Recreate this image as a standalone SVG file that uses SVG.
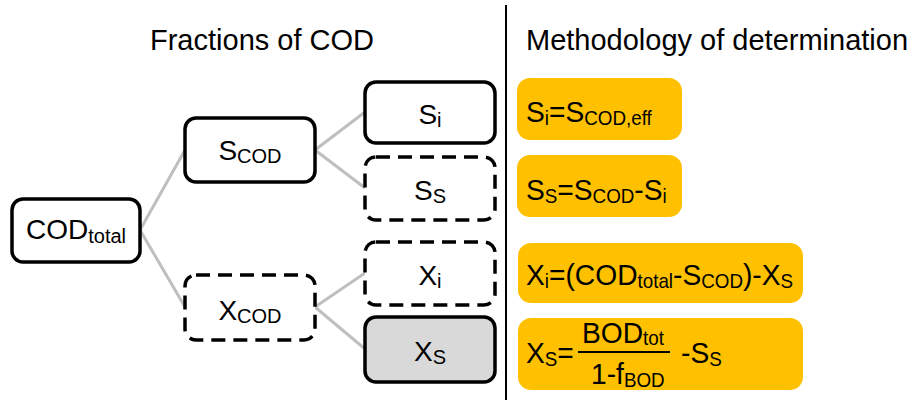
<svg xmlns="http://www.w3.org/2000/svg" width="908" height="400" viewBox="0 0 908 400">
<style>
text{font-family:"Liberation Sans",Arial,sans-serif;fill:#000}
.hdr{font-size:29px}
.nt{font-size:28px;text-anchor:middle}
.ft{font-size:30px}
.sub{font-size:20px}
.box{fill:#fff;stroke:#000;stroke-width:3.5}
.dash{stroke-dasharray:14 8}
.gold{fill:#FFC000}
.conn{stroke:#BFBFBF;stroke-width:3;fill:none}
</style>
<rect width="908" height="400" fill="#fff"/>
<g id="headers">
<text class="hdr" x="150" y="50">Fractions of COD</text>
<text class="hdr" x="526" y="50">Methodology of determination</text>
</g>
<line x1="506" y1="5" x2="506" y2="400" stroke="#000" stroke-width="2"/>
<g id="connectors">
<path class="conn" d="M140,230 L185,150 M140,230 L185,307 M315,150 L365,112 M315,150 L365,188 M315,307 L365,273 M315,307 L365,349"/>
</g>
<g id="cod_total">
<rect class="box" x="12" y="199" width="128" height="63" rx="11"/>
<text class="nt" x="76" y="239">COD<tspan class="sub" dy="4">total</tspan></text>
</g>
<g id="s_cod">
<rect class="box" x="185" y="118" width="130" height="64" rx="11"/>
<text class="nt" x="250" y="160">S<tspan class="sub" dy="3">COD</tspan></text>
</g>
<g id="x_cod">
<rect class="box dash" x="185" y="275" width="130" height="65" rx="11"/>
<text class="nt" x="250" y="320">X<tspan class="sub" dy="3">COD</tspan></text>
</g>
<g id="s_i">
<rect class="box" x="365" y="82" width="130" height="61" rx="11"/>
<text class="nt" x="430" y="124">S<tspan class="sub" dy="3">i</tspan></text>
</g>
<g id="s_s">
<rect class="box dash" x="365" y="157" width="130" height="63" rx="11"/>
<text class="nt" x="430" y="200">S<tspan class="sub" dy="3">S</tspan></text>
</g>
<g id="x_i">
<rect class="box dash" x="365" y="242" width="130" height="63" rx="11"/>
<text class="nt" x="430" y="285">X<tspan class="sub" dy="3">i</tspan></text>
</g>
<g id="x_s">
<rect class="box" x="365" y="317" width="130" height="65" rx="11" style="fill:#D9D9D9"/>
<text class="nt" x="430" y="361">X<tspan class="sub" dy="3">S</tspan></text>
</g>
<g id="eq_si">
<rect class="gold" x="517" y="78" width="165" height="62" rx="13"/>
<text class="ft" transform="translate(526,122) scale(0.94,1)">S<tspan class="sub" dy="3">i</tspan><tspan dy="-3">=S</tspan><tspan class="sub" dy="3">COD,eff</tspan></text>
</g>
<g id="eq_ss">
<rect class="gold" x="517" y="155" width="165" height="62" rx="13"/>
<text class="ft" transform="translate(526,200) scale(0.94,1)">S<tspan class="sub" dy="3">S</tspan><tspan dy="-3">=S</tspan><tspan class="sub" dy="3">COD</tspan><tspan dy="-3">-S</tspan><tspan class="sub" dy="3">i</tspan></text>
</g>
<g id="eq_xi">
<rect class="gold" x="518" y="243" width="285" height="60" rx="13"/>
<text class="ft" transform="translate(526,285) scale(0.94,1)">X<tspan class="sub" dy="3">i</tspan><tspan dy="-3">=(COD</tspan><tspan class="sub" dy="3">total</tspan><tspan dy="-3">-S</tspan><tspan class="sub" dy="3">COD</tspan><tspan dy="-3">)-X</tspan><tspan class="sub" dy="3">S</tspan></text>
</g>
<g id="eq_xs">
<rect class="gold" x="518" y="318" width="285" height="72" rx="13"/>
<text class="ft" transform="translate(526,363) scale(0.94,1)">X<tspan class="sub" dy="3">S</tspan><tspan dy="-3">=</tspan></text>
<text class="ft" transform="translate(582,343) scale(0.94,1)">BOD<tspan class="sub" dy="2">tot</tspan></text>
<line x1="578" y1="352" x2="670" y2="352" stroke="#000" stroke-width="2"/>
<text class="ft" transform="translate(591,384) scale(0.94,1)">1-f<tspan class="sub" dy="3">BOD</tspan></text>
<text class="ft" transform="translate(681,363) scale(0.94,1)">-S<tspan class="sub" dy="3">S</tspan></text>
</g>
</svg>
